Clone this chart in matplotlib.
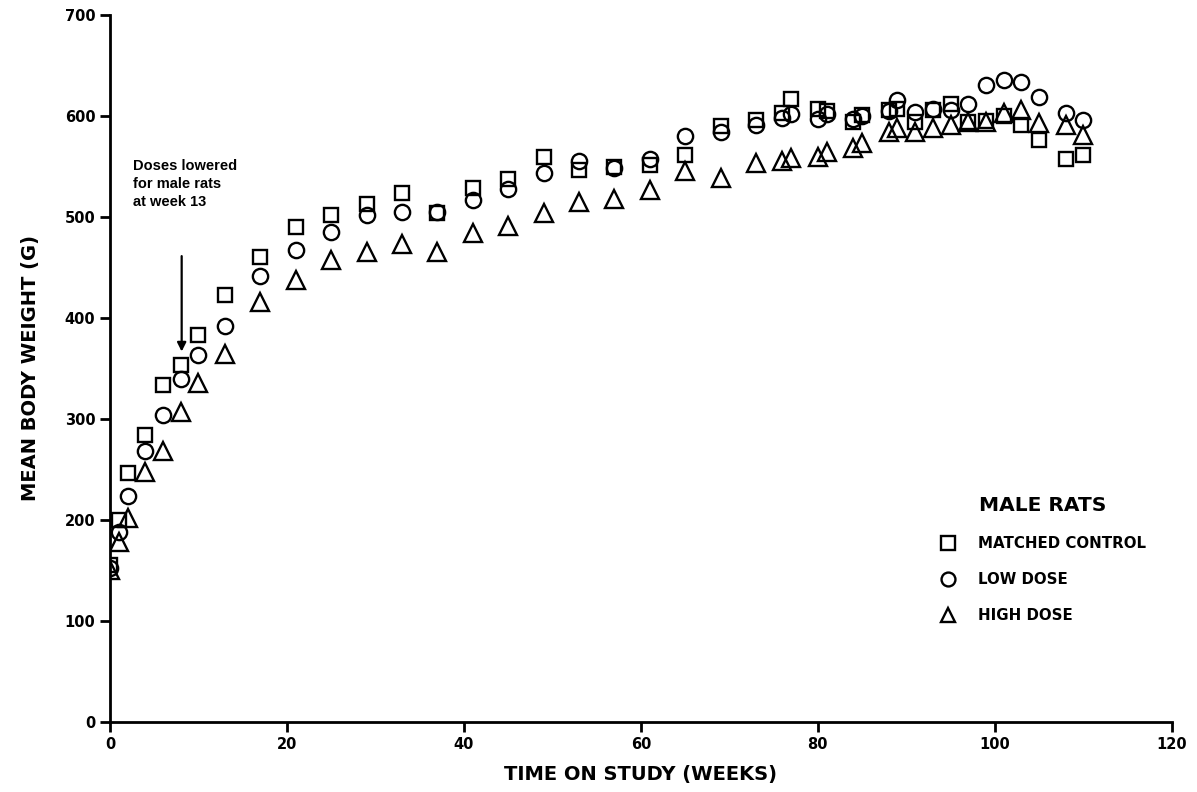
import matplotlib.pyplot as plt

plt.rcParams['font.family'] = ['DejaVu Sans']

# Adatok (heti mérések)
weeks = [0, 1, 2, 4, 6, 8, 10, 13, 17, 21, 25, 29, 33, 37, 41, 45, 49, 53, 57, 61,
         65, 69, 73, 76, 77, 80, 81, 84, 85, 88, 89, 91, 93, 95, 97, 99, 101, 103,
         105, 108, 110]

control = [155, 200, 247, 284, 334, 353, 383, 423, 460, 490, 502, 513, 524, 504, 529,
           538, 559, 547, 549, 551, 561, 590, 596, 603, 617, 607, 605, 594, 601, 606,
           607, 594, 606, 612, 594, 595, 600, 591, 576, 557, 561]

low_dose = [152, 188, 224, 268, 304, 340, 363, 392, 442, 467, 485, 502, 505, 505, 517,
            528, 544, 555, 548, 557, 580, 584, 591, 598, 602, 597, 602, 597, 600, 605,
            616, 604, 607, 606, 612, 631, 636, 634, 619, 603, 596]

high_dose = [150, 178, 202, 248, 268, 307, 336, 364, 416, 438, 457, 465, 473, 465, 484,
             491, 504, 515, 518, 527, 546, 539, 553, 555, 558, 559, 564, 568, 573, 584,
             588, 584, 588, 591, 594, 594, 603, 606, 593, 591, 581]

x_ticks = [0, 20, 40, 60, 80, 100, 120]
y_ticks = [0, 100, 200, 300, 400, 500, 600, 700]

fig = plt.figure(figsize=(11.97, 7.92), dpi=100)
ax = fig.add_axes([0.0919, 0.0884, 0.887, 0.8927])

stilus = dict(linestyle='none', mfc='none', mec='black', mew=1.7)
ax.plot(weeks, control, marker='s', ms=10.5, label='MATCHED CONTROL', **stilus)
ax.plot(weeks, low_dose, marker='o', ms=11, label='LOW DOSE', **stilus)
ax.plot(weeks, high_dose, marker='^', ms=12.5, label='HIGH DOSE', **stilus)

# Nyíl és megjegyzés
ax.annotate('', xy=(8.1, 364), xytext=(8.1, 464),
            arrowprops=dict(arrowstyle='-|>', color='black', lw=1.6,
                            mutation_scale=13))
ax.text(2.6, 557, 'Doses lowered\nfor male rats\nat week 13', fontsize=10.5,
        family='Liberation Sans', fontweight='bold',
        va='top', ha='left', linespacing=1.35)

ax.set_xlim(0, 120)
ax.set_ylim(0, 700)
ax.set_xticks(x_ticks)
ax.set_yticks(y_ticks)
ax.spines['top'].set_visible(False)
ax.spines['right'].set_visible(False)
for s in ['left', 'bottom']:
    ax.spines[s].set_linewidth(2)
ax.tick_params(direction='out', length=7, width=2, labelsize=10.5)
for lbl in ax.get_xticklabels() + ax.get_yticklabels():
    lbl.set_fontweight('bold')

ax.set_xlabel('TIME ON STUDY (WEEKS)', fontsize=14, fontweight='bold', labelpad=10)
ax.set_ylabel('MEAN BODY WEIGHT (G)', fontsize=14, fontweight='bold', labelpad=18)

leg = ax.legend(loc='upper left', bbox_to_anchor=(0.775, 0.33), frameon=False,
                title='MALE RATS', fontsize=10.8, labelspacing=1.4,
                handlelength=1.0, handletextpad=1.5, borderpad=0,
                title_fontproperties={'weight': 'bold', 'size': 14.5})
for t in leg.get_texts():
    t.set_fontweight('bold')
for h in leg.legend_handles:
    h.set_markersize(10)

fig.savefig('out.png', dpi=100)
